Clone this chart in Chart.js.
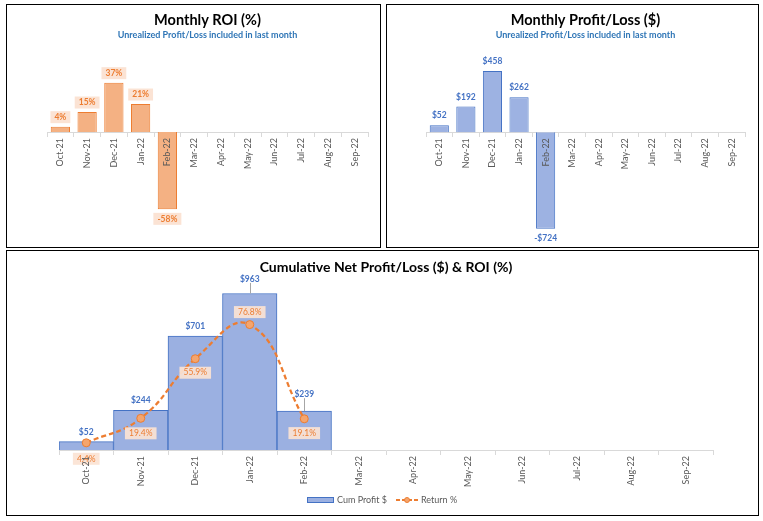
<!DOCTYPE html>
<html>
<head>
<meta charset="utf-8">
<script src="https://cdn.jsdelivr.net/npm/chart.js@4.4.0/dist/chart.umd.min.js"></script>
<style>
body { margin: 0; background: #fff; width: 763px; height: 521px; overflow: hidden; position: relative; }
.panel { position: absolute; box-sizing: border-box; border: 1px solid #000; background: #fff; }
.panel canvas { display: block; }
</style>
</head>
<body>
<div class="panel" style="left:6px;top:4px;width:375px;height:244px"><canvas id="roi" width="373" height="242"></canvas></div>
<div class="panel" style="left:386px;top:4px;width:373px;height:244px"><canvas id="pnl" width="371" height="242"></canvas></div>
<div class="panel" style="left:6px;top:250px;width:753px;height:266px"><canvas id="cum" width="751" height="264"></canvas></div>
<script>
const FONT = 'Lato, "Open Sans", sans-serif';

const months = ['Oct-21', 'Nov-21', 'Dec-21', 'Jan-22', 'Feb-22', 'Mar-22',
	'Apr-22', 'May-22', 'Jun-22', 'Jul-22', 'Aug-22', 'Sep-22'];
const monthlyRoi = [4, 15, 37, 21, -58, null, null, null, null, null, null, null];
const monthlyPnl = [52, 192, 458, 262, -724, null, null, null, null, null, null, null];
const cumProfit = [52, 244, 701, 963, 239, null, null, null, null, null, null, null];
const cumReturn = [4.4, 19.4, 55.9, 76.8, 19.1, null, null, null, null, null, null, null];

// data labels drawn next to bars / points
const valueLabels = {
	id: 'valueLabels',
	afterDatasetsDraw(chart, args, opts) {
		const ctx = chart.ctx;
		(opts.sets || []).forEach(cfg => {
			const meta = chart.getDatasetMeta(cfg.dataset);
			const data = chart.data.datasets[cfg.dataset].data;
			meta.data.forEach((el, i) => {
				const v = data[i];
				if (v === null || v === undefined) return;
				const text = cfg.format(v);
				const gap = Array.isArray(cfg.gap) ? cfg.gap[i] : cfg.gap;
				let side = v < 0 ? 1 : -1;
				if (cfg.side) side = cfg.side[i];
				const x = el.x;
				const y = el.y + side * gap;
				ctx.save();
				ctx.font = cfg.font;
				ctx.textAlign = 'center';
				ctx.textBaseline = 'middle';
				const w = ctx.measureText(text).width;
				if (cfg.bg) {
					ctx.fillStyle = cfg.bg;
					ctx.fillRect(x - w / 2 - 4, y - 6, w + 8, 12);
				}
				if (cfg.leader && cfg.leader[i]) {
					ctx.strokeStyle = '#A6A6A6';
					ctx.lineWidth = 1;
					ctx.beginPath();
					ctx.moveTo(Math.round(x) + 0.5, y + 4);
					ctx.lineTo(Math.round(x) + 0.5, el.y);
					ctx.stroke();
				}
				ctx.fillStyle = cfg.color;
				ctx.fillText(text, x, y);
				ctx.restore();
			});
		});
	}
};

// legend for the cumulative chart
const cumLegend = {
	id: 'cumLegend',
	afterDraw(chart) {
		const ctx = chart.ctx;
		const bar = chart.data.datasets[0];
		const line = chart.data.datasets[1];
		ctx.save();
		ctx.fillStyle = bar.backgroundColor;
		ctx.fillRect(300.5, 246.5, 26, 5);
		ctx.strokeStyle = bar.borderColor;
		ctx.lineWidth = 1;
		ctx.strokeRect(300.5, 246.5, 26, 5);
		ctx.font = '9px ' + FONT;
		ctx.fillStyle = '#595959';
		ctx.textBaseline = 'middle';
		ctx.fillText('Cum Profit $', 330, 249.5);
		ctx.strokeStyle = line.borderColor;
		ctx.lineWidth = 2;
		ctx.setLineDash([4, 2]);
		ctx.beginPath();
		ctx.moveTo(389, 249);
		ctx.lineTo(411, 249);
		ctx.stroke();
		ctx.setLineDash([]);
		ctx.beginPath();
		ctx.arc(400, 249, 2.5, 0, Math.PI * 2);
		ctx.fillStyle = line.pointBackgroundColor;
		ctx.fill();
		ctx.lineWidth = 1;
		ctx.stroke();
		ctx.fillStyle = '#595959';
		ctx.fillText('Return %', 414, 249.5);
		ctx.restore();
	}
};

function monthAxis() {
	return {
		position: { y: 0 },
		afterFit: s => { s.height = 0; },
		grid: { drawOnChartArea: false, drawTicks: true, tickLength: 4, color: '#D9D9D9', offset: true },
		border: { color: '#D9D9D9' },
		ticks: {
			z: 1, autoSkip: false, maxRotation: 90, minRotation: 90, padding: 2,
			color: '#595959', font: { family: FONT, size: 9 }
		}
	};
}

function titleOpts(text, size) {
	return {
		display: true, text: text, color: '#000',
		font: { family: FONT, size: size, weight: 'bold' },
		padding: { top: 7, bottom: 0 }
	};
}

function subtitleOpts() {
	return {
		display: true, text: 'Unrealized Profit/Loss included in last month', color: '#2E75B6',
		font: { family: FONT, size: 9, weight: 'bold' },
		padding: { top: 0, bottom: 18.5 }
	};
}

new Chart(document.getElementById('roi'), {
	type: 'bar',
	data: {
		labels: months,
		datasets: [{
			data: monthlyRoi,
			backgroundColor: '#F4B183',
			borderColor: '#ED7D31',
			borderWidth: 1,
			categoryPercentage: 1,
			barPercentage: 0.72
		}]
	},
	options: {
		responsive: false,
		animation: false,
		layout: { padding: { left: 40, right: 12, top: 0, bottom: 15 } },
		plugins: {
			legend: { display: false },
			tooltip: { enabled: false },
			title: titleOpts('Monthly ROI (%)', 14.5),
			subtitle: subtitleOpts(),
			valueLabels: {
				sets: [{
					dataset: 0, format: v => v + '%', gap: 9.5,
					color: '#ED7D31', bg: '#FBE3D4', font: 'bold 8.5px ' + FONT
				}]
			}
		},
		scales: {
			x: monthAxis(),
			y: { display: false, min: -75, max: 55 }
		}
	},
	plugins: [valueLabels]
});

new Chart(document.getElementById('pnl'), {
	type: 'bar',
	data: {
		labels: months,
		datasets: [{
			data: monthlyPnl,
			backgroundColor: '#9DB2E2',
			borderColor: '#4472C4',
			borderWidth: 1,
			categoryPercentage: 1,
			barPercentage: 0.72
		}]
	},
	options: {
		responsive: false,
		animation: false,
		layout: { padding: { left: 39, right: 13, top: 0, bottom: 12 } },
		plugins: {
			legend: { display: false },
			tooltip: { enabled: false },
			title: titleOpts('Monthly Profit/Loss ($)', 14.5),
			subtitle: subtitleOpts(),
			valueLabels: {
				sets: [{
					dataset: 0, format: v => (v < 0 ? '-$' : '$') + Math.abs(v), gap: 9.5,
					color: '#4472C4', font: 'bold 8.5px ' + FONT
				}]
			}
		},
		scales: {
			x: monthAxis(),
			y: { display: false, min: -770, max: 550 }
		}
	},
	plugins: [valueLabels]
});

new Chart(document.getElementById('cum'), {
	type: 'bar',
	data: {
		labels: months,
		datasets: [{
			label: 'Cum Profit $',
			data: cumProfit,
			yAxisID: 'y',
			order: 1,
			backgroundColor: '#9BB0E1',
			borderColor: '#4472C4',
			borderWidth: 1,
			categoryPercentage: 1,
			barPercentage: 1
		}, {
			type: 'line',
			label: 'Return %',
			data: cumReturn,
			yAxisID: 'y1',
			order: 0,
			borderColor: '#ED7D31',
			borderWidth: 2.25,
			borderDash: [5, 3],
			tension: 0.45,
			pointRadius: 4,
			pointBackgroundColor: '#F4A56E',
			pointBorderColor: '#ED7D31',
			pointBorderWidth: 1
		}]
	},
	options: {
		responsive: false,
		animation: false,
		layout: { padding: { left: 52, right: 45, top: 0, bottom: 65 } },
		plugins: {
			legend: { display: false },
			tooltip: { enabled: false },
			title: Object.assign(titleOpts('Cumulative Net Profit/Loss ($) & ROI (%)', 14), { padding: { top: 7.6, bottom: 5.6 } }),
			valueLabels: {
				sets: [{
					dataset: 0, format: v => '$' + v, gap: [9, 9.6, 10, 14.6, 17],
					leader: [false, false, false, true, true],
					color: '#4472C4', font: 'bold 8.5px ' + FONT
				}, {
					dataset: 1, format: v => v.toFixed(1) + '%', gap: [16, 15, 14, 12.5, 14.3],
					side: [1, 1, 1, -1, 1],
					color: '#ED7D31', bg: 'rgba(251,227,212,0.92)', font: '8.5px ' + FONT
				}]
			}
		},
		scales: {
			x: monthAxis(),
			y: { display: false, min: 0, max: 1040 },
			y1: { display: false, min: 0, max: 103.5, position: 'right' }
		}
	},
	plugins: [valueLabels, cumLegend]
});
</script>
</body>
</html>
